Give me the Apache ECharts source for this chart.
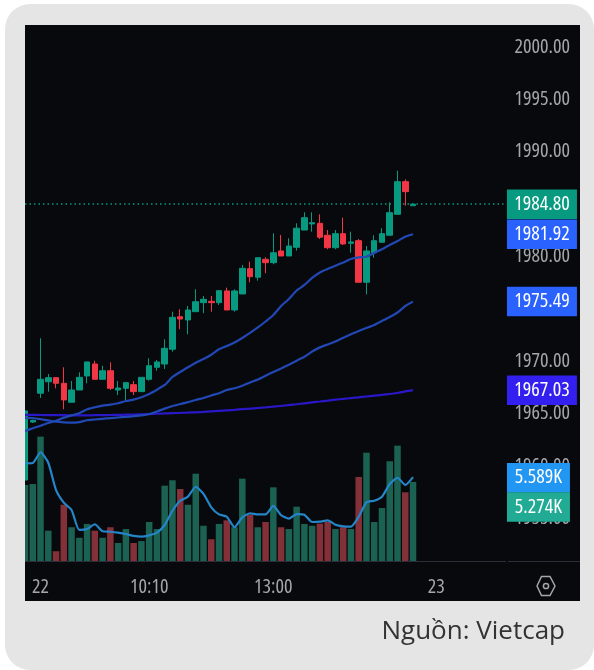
<!DOCTYPE html>
<html>
<head>
<meta charset="utf-8">
<title>Chart</title>
<script src="https://cdn.jsdelivr.net/npm/echarts@6/dist/echarts.min.js"></script>
<style>
html, body { margin: 0; padding: 0; background: #fff; }
#card { position: absolute; left: 5px; top: 4px; width: 589px; height: 666px; background: #e5e5e5; border-radius: 25px; }
#panel { position: absolute; left: 25px; top: 25px; width: 555px; height: 576px; background: #07090c; }
#main { position: absolute; left: 0; top: 0; width: 594px; height: 670px; }
#edge { position: absolute; left: 15px; top: 25px; width: 10px; height: 576px; background: #e5e5e5; }
</style>
</head>
<body>
<div id="card"></div>
<div id="panel"></div>
<div id="main"></div>
<div id="edge"></div>
<script>
var AXIS_FONT = '"Open Sans", sans-serif';

// open, close, low, high
var candles = [
	[1958.45,1965.05,1958.45,1965.05],[1963.99,1964.14,1963.90,1964.20],[1966.74,1968.07,1966.29,1971.99],
	[1967.84,1968.23,1966.89,1968.58],[1968.23,1967.69,1967.21,1968.23],[1967.69,1966.10,1965.21,1969.22],
	[1965.88,1967.05,1965.88,1967.91],[1967.05,1968.26,1967.05,1968.74],[1968.39,1969.73,1967.69,1969.73],
	[1969.53,1968.07,1968.07,1969.85],[1968.07,1968.89,1968.07,1969.37],[1968.89,1967.21,1967.05,1969.70],
	[1967.05,1967.24,1966.57,1967.91],[1967.21,1967.75,1965.93,1967.75],[1967.56,1966.89,1966.57,1967.91],
	[1966.89,1968.26,1966.89,1968.26],[1968.07,1969.37,1967.94,1970.08],[1969.22,1969.73,1968.89,1969.92],
	[1969.53,1971.03,1969.06,1971.89],[1970.94,1973.99,1970.71,1974.53],[1974.05,1973.83,1972.85,1974.76],
	[1973.74,1974.69,1972.37,1975.07],[1974.53,1975.48,1974.53,1976.67],[1975.39,1975.71,1974.38,1976.03],
	[1975.52,1975.39,1974.53,1976.03],[1975.39,1976.54,1975.17,1976.54],[1976.51,1974.69,1974.69,1976.82],
	[1974.69,1976.51,1974.53,1976.67],[1976.22,1978.67,1976.22,1978.99],[1978.64,1977.87,1977.34,1979.31],
	[1977.82,1979.69,1977.49,1979.69],[1979.53,1979.21,1978.20,1979.73],[1979.21,1980.16,1979.06,1982.02],
	[1980.33,1979.85,1979.85,1981.86],[1979.85,1980.80,1979.85,1981.54],[1980.68,1982.50,1980.36,1982.97],
	[1982.33,1983.51,1982.33,1984.02],[1982.91,1983.03,1982.17,1984.02],[1982.97,1981.64,1981.47,1983.83],
	[1981.83,1980.64,1980.49,1982.33],[1980.64,1981.98,1980.49,1982.33],[1981.98,1981.00,1980.90,1983.51],
	[1981.06,1981.19,1980.16,1982.17],[1981.31,1977.34,1977.34,1981.47],[1977.34,1980.33,1976.19,1980.80],
	[1980.16,1981.31,1979.69,1981.83],[1981.16,1981.98,1981.16,1982.50],[1981.83,1983.99,1981.83,1984.98],
	[1983.83,1986.95,1983.83,1987.99],[1986.95,1985.99,1984.65,1987.17],[1984.65,1984.80,1984.65,1984.80]
];

var maFast = [1963.13,1963.39,1963.64,1963.90,1964.12,1964.41,1964.63,1964.83,1965.21,1965.40,1965.55,1965.65,1965.78,
	1966.00,1966.13,1966.35,1966.67,1967.08,1967.53,1968.29,1968.77,1969.22,1969.66,1970.01,1970.42,1970.94,1971.25,
	1971.59,1972.02,1972.50,1973.02,1973.59,1974.21,1975.07,1975.74,1976.55,1977.08,1977.75,1978.27,1978.61,1978.92,
	1979.23,1979.56,1979.71,1979.78,1980.14,1980.49,1980.90,1981.28,1981.69,1981.92];

var maMid = [1964.41,1964.36,1964.26,1964.14,1964.02,1963.96,1963.93,1963.98,1964.16,1964.23,1964.30,1964.36,1964.42,
	1964.48,1964.55,1964.63,1964.76,1965.00,1965.27,1965.52,1965.71,1965.89,1966.10,1966.29,1966.53,1966.74,1967.05,
	1967.22,1967.45,1967.77,1968.05,1968.41,1968.77,1969.11,1969.47,1969.85,1970.22,1970.73,1971.12,1971.40,1971.68,
	1972.04,1972.37,1972.69,1972.97,1973.26,1973.64,1974.02,1974.45,1975.07,1975.49];

var maSlow = [1964.68,1964.67,1964.66,1964.65,1964.64,1964.64,1964.63,1964.63,1964.63,1964.64,1964.65,1964.66,1964.67,
	1964.69,1964.71,1964.73,1964.75,1964.78,1964.81,1964.84,1964.86,1964.89,1964.92,1964.96,1965.01,1965.06,1965.11,
	1965.16,1965.22,1965.27,1965.33,1965.39,1965.46,1965.53,1965.61,1965.69,1965.78,1965.87,1965.95,1966.04,1966.13,
	1966.20,1966.28,1966.35,1966.43,1966.51,1966.58,1966.67,1966.76,1966.91,1967.03];

// volume, in K
var volumes = [5.07,5.13,8.29,2.02,0.65,3.75,2.25,1.55,2.47,2.02,1.55,2.25,1.20,2.13,1.20,1.33,2.60,2.13,5.02,5.38,
	4.80,3.75,5.82,2.35,1.45,2.47,2.71,2.25,5.49,3.07,2.25,2.60,4.91,2.25,2.13,3.62,2.47,2.35,2.49,2.60,2.13,2.25,
	2.13,5.60,7.22,2.60,3.53,6.65,7.69,4.58,5.274];

var volumeMa = [6.51,6.53,7.25,6.55,4.73,3.89,3.40,2.07,2.13,2.45,1.98,1.95,1.89,1.80,1.67,1.62,1.71,1.89,2.40,3.35,
	4.02,4.29,4.95,4.47,3.58,3.11,2.95,2.25,2.91,3.18,3.11,3.11,3.67,3.05,2.82,3.13,3.09,2.60,2.62,2.71,2.42,2.31,
	2.29,2.95,3.91,4.02,4.29,5.13,5.55,5.07,5.589];

var priceTicks = [2000,1995,1990,1985,1980,1975,1970,1965,1960,1955];
var timeTicks = {2:'22',16:'10:10',32:'13:00',53:'23'};

var categories = [];
for (var i = 0; i < 72; i++) {
	categories.push(timeTicks[i] || '');
}

var volumeBars = [];
for (var j = 0; j < volumes.length; j++) {
	var isUp = candles[j][1] >= candles[j][0];
	volumeBars.push({ value: volumes[j], itemStyle: { color: isUp ? '#1b6253' : '#843039' } });
}

function tag(value, text, color, dx, dy, w) {
	return {
		coord: [67, value],
		symbol: 'rect',
		symbolSize: [w, 29.5],
		symbolOffset: [dx, dy],
		itemStyle: { color: color },
		label: {
			show: true, position: 'inside', formatter: text, color: '#fff',
			fontFamily: AXIS_FONT, fontStyle: 'condensed', fontSize: 20
		}
	};
}

function maLine(name, data, color, yIndex, tags, z) {
	return {
		name: name, type: 'line', data: data, yAxisIndex: yIndex, z: z,
		symbol: 'none', smooth: 0.2,
		lineStyle: { color: color, width: 2.2 },
		markPoint: { silent: true, animation: false, data: tags }
	};
}

var chart = echarts.init(document.getElementById('main'), null, { renderer: 'canvas' });
var option = {
	animation: false,
	backgroundColor: 'transparent',
	title: {
		text: 'Nguồn: Vietcap',
		right: 29, top: 619, padding: 0,
		textStyle: { fontFamily: '"Open Sans", sans-serif', fontSize: 26, fontWeight: 'normal', color: '#333' }
	},
	grid: { left: 25, top: 25, width: 551, height: 536 },
	xAxis: [{
		type: 'category',
		boundaryGap: false,
		data: categories,
		axisTick: { show: false },
		axisLine: { show: false },
		axisLabel: {
			interval: 0, margin: 16, color: '#a3a6ab',
			fontFamily: AXIS_FONT, fontStyle: 'condensed', fontSize: 20
		}
	}],
	yAxis: [{
		type: 'value',
		position: 'right',
		min: 1950.717,
		max: 2001.91,
		splitLine: { show: false },
		axisTick: { show: false },
		axisLine: { show: false },
		axisLabel: {
			inside: true, margin: 6,
			customValues: priceTicks,
			formatter: function (v) { return '{p|' + v.toFixed(2) + '}'; },
			rich: {
				p: {
					color: '#a3a6ab', padding: [4, 0, 0, 0],
					fontFamily: AXIS_FONT, fontStyle: 'condensed', fontSize: 20
				}
			}
		}
	}, {
		type: 'value',
		min: 0,
		max: 35.73,
		show: false
	}],
	graphic: [
		{ type: 'line', z: 1, shape: { x1: 25, y1: 561.5, x2: 506, y2: 561.5 }, style: { stroke: '#2a2e39', lineWidth: 1 } },
		{ type: 'line', z: 1, shape: { x1: 508, y1: 561.5, x2: 580, y2: 561.5 }, style: { stroke: '#2a2e39', lineWidth: 1 } },
		{ type: 'polygon', z: 5, shape: { points: [[537, 586], [541.5, 576.5], [550, 576.5], [555, 586], [550, 595.5], [541.5, 595.5]] },
			style: { fill: 'none', stroke: '#a3a6ab', lineWidth: 1.5 } },
		{ type: 'circle', z: 5, shape: { cx: 546, cy: 586, r: 2.6 }, style: { fill: 'none', stroke: '#a3a6ab', lineWidth: 1.5 } }
	],
	series: [{
		name: 'Volume', type: 'bar', yAxisIndex: 1, barWidth: 6.5, data: volumeBars, z: 2
	}, {
		name: 'Price', type: 'candlestick', data: candles, barWidth: 6, z: 3,
		itemStyle: { color: '#089981', color0: '#f23645', borderColor: '#089981', borderColor0: '#f23645', borderWidth: 1 },
		markLine: {
			silent: true, animation: false, symbol: 'none',
			lineStyle: { type: [1.5, 3], color: '#089981', width: 1.5, opacity: 1 },
			label: { show: false },
			data: [[{ coord: [0, 1984.8] }, { coord: [62, 1984.8] }]]
		},
		markPoint: { silent: true, animation: false, data: [tag(1984.8, '1984.80', '#089981', -3, 0, 70)] }
	},
	maLine('MA slow', maSlow, '#2a18c8', 0, [tag(1967.03, '1967.03', '#3320f0', -3, 0, 70)], 4),
	maLine('MA mid', maMid, '#2248b5', 0, [tag(1975.49, '1975.49', '#2962ff', -3, 0, 70)], 4),
	maLine('MA fast', maFast, '#2248b5', 0, [tag(1981.92, '1981.92', '#2962ff', -3, 0, 70)], 5),
	maLine('Volume MA', volumeMa, '#2486c8', 1, [
		tag(5.589, '5.589K', '#2196f3', -6.5, 0.5, 63),
		tag(5.274, '5.274K', '#22ab94', -6.5, 25, 63)
	], 6)]
};
chart.setOption(option);
</script>
</body>
</html>
